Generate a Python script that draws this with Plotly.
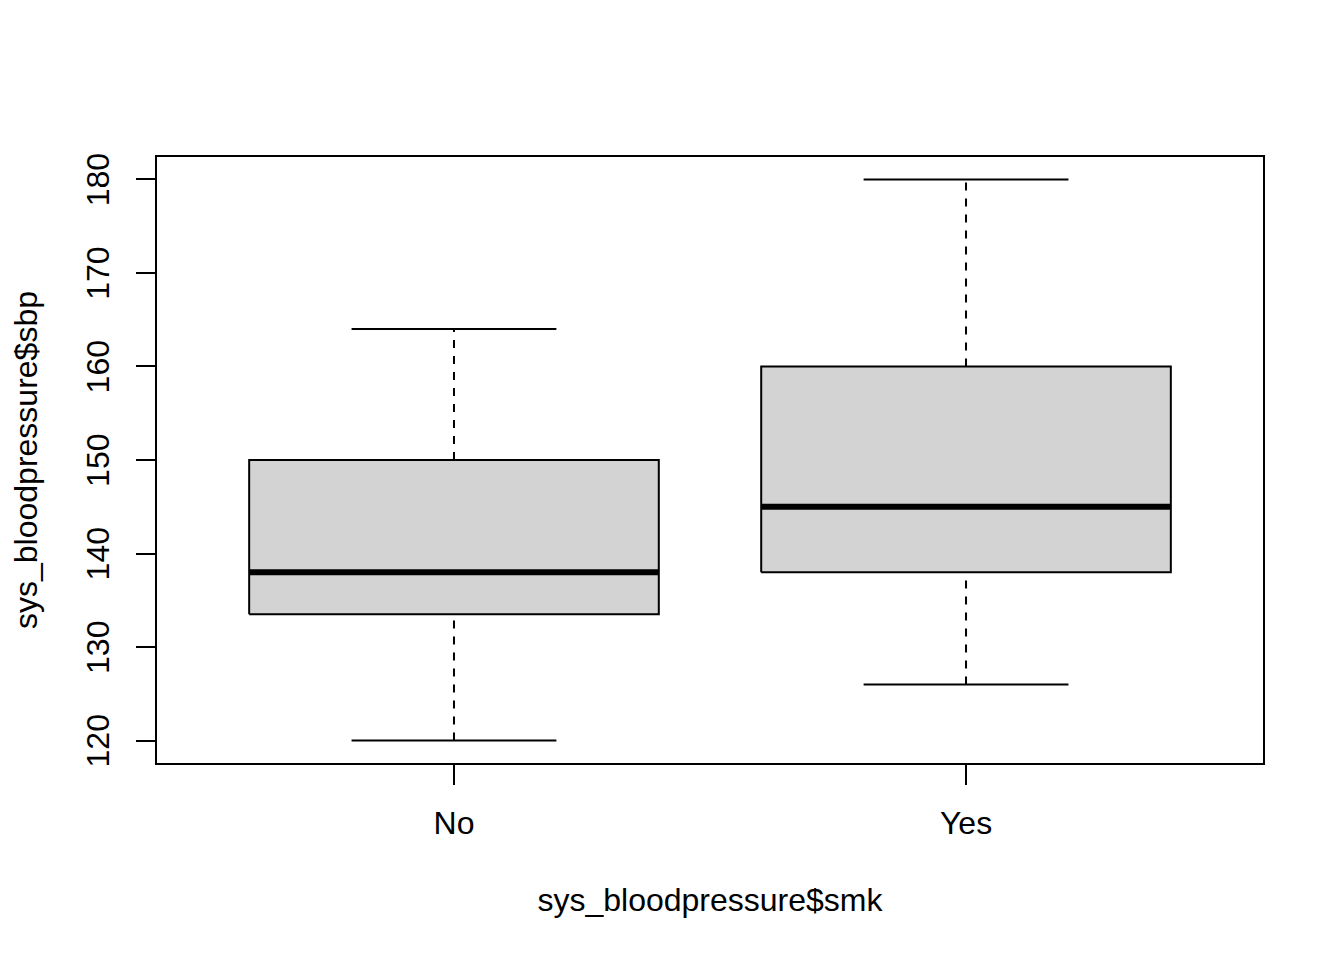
import plotly.graph_objects as go

categories = ["No", "Yes"]
positions = [1, 2]
lower_whisker = [120, 126]
q1_values = [133.5, 138]
median_values = [138, 145]
q3_values = [150, 160]
upper_whisker = [164, 180]
y_ticks = [120, 130, 140, 150, 160, 170, 180]

BOX_HALF = 0.4
CAP_HALF = 0.2

fig = go.Figure()

for i, name in enumerate(categories):
    x = positions[i]
    lo, q1, med, q3, hi = lower_whisker[i], q1_values[i], median_values[i], q3_values[i], upper_whisker[i]
    # dashed whiskers
    fig.add_trace(go.Scatter(x=[x, x], y=[q3, hi], mode="lines",
                             line=dict(color="black", width=2, dash="8px,8px"),
                             showlegend=False, hoverinfo="skip"))
    fig.add_trace(go.Scatter(x=[x, x], y=[lo, q1], mode="lines",
                             line=dict(color="black", width=2, dash="8px,8px"),
                             showlegend=False, hoverinfo="skip"))
    # caps
    for v in (lo, hi):
        fig.add_trace(go.Scatter(x=[x - CAP_HALF, x + CAP_HALF], y=[v, v], mode="lines",
                                 line=dict(color="black", width=2),
                                 showlegend=False, hoverinfo="skip"))
    # box
    fig.add_trace(go.Scatter(x=[x - BOX_HALF, x + BOX_HALF, x + BOX_HALF, x - BOX_HALF, x - BOX_HALF],
                             y=[q1, q1, q3, q3, q1], mode="lines", fill="toself",
                             fillcolor="#D3D3D3", line=dict(color="black", width=2),
                             name=name, showlegend=False))
    # median
    fig.add_trace(go.Scatter(x=[x - BOX_HALF, x + BOX_HALF], y=[med, med], mode="lines",
                             line=dict(color="black", width=6),
                             showlegend=False, hoverinfo="skip"))

FAMILY = "Liberation Sans, Arial, sans-serif"
font = dict(family=FAMILY, size=32, color="black")

fig.update_layout(
    width=1344, height=960,
    margin=dict(l=149, r=89, t=149, b=205),
    paper_bgcolor="white", plot_bgcolor="white",
    font=font,
    showlegend=False,
    xaxis=dict(
        range=[0.42, 2.58], tickmode="array", tickvals=positions, ticktext=categories,
        ticks="outside", ticklen=20, tickwidth=2, tickcolor="black",
        showline=True, mirror=True, linewidth=2, linecolor="black",
        showgrid=False, zeroline=False, automargin=False,
        tickfont=font,
        title=dict(text="sys_bloodpressure$smk", standoff=48, font=font),
        ticklabelstandoff=11,
    ),
    yaxis=dict(
        range=[117.6, 182.4], tickmode="array", tickvals=y_ticks,
        ticks="outside", ticklen=19, tickwidth=2, tickcolor="black",
        tickangle=-90,
        showline=True, mirror=True, linewidth=2, linecolor="black",
        showgrid=False, zeroline=False, automargin=False,
        tickfont=font,
        title=dict(text="sys_bloodpressure$sbp", standoff=38, font=font),
        ticklabelstandoff=14,
        ticklabelshift=5,
    ),
)

fig.write_html("out.html")
